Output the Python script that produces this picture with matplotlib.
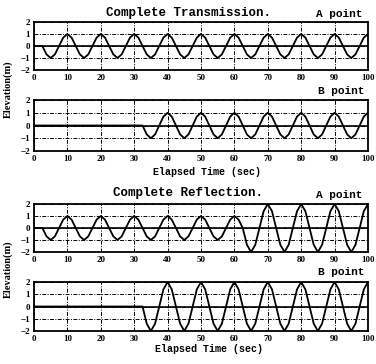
import numpy as np
import matplotlib
matplotlib.use("Agg")
import matplotlib.pyplot as plt

# sample times (sec), every 1.25 s from 0 to 100
t = np.arange(0, 100.01, 1.25)

# elevations (m), one row per 10 s
trans_a = [0, 0, 0, -0.7, -1, -0.7, 0, 0.7,
           1, 0.7, 0, -0.7, -1, -0.7, 0, 0.7,
           1, 0.7, 0, -0.7, -1, -0.7, 0, 0.7,
           1, 0.7, 0, -0.7, -1, -0.7, 0, 0.7,
           1, 0.7, 0, -0.7, -1, -0.7, 0, 0.7,
           1, 0.7, 0, -0.7, -1, -0.7, 0, 0.7,
           1, 0.7, 0, -0.7, -1, -0.7, 0, 0.7,
           1, 0.7, 0, -0.7, -1, -0.7, 0, 0.7,
           1, 0.7, 0, -0.7, -1, -0.7, 0, 0.7,
           1, 0.7, 0, -0.7, -1, -0.7, 0, 0.7,
           1]
trans_b = [0, 0, 0, 0, 0, 0, 0, 0,
           0, 0, 0, 0, 0, 0, 0, 0,
           0, 0, 0, 0, 0, 0, 0, 0,
           0, 0, 0, -0.7, -1, -0.7, 0, 0.7,
           1, 0.7, 0, -0.7, -1, -0.7, 0, 0.7,
           1, 0.7, 0, -0.7, -1, -0.7, 0, 0.7,
           1, 0.7, 0, -0.7, -1, -0.7, 0, 0.7,
           1, 0.7, 0, -0.7, -1, -0.7, 0, 0.7,
           1, 0.7, 0, -0.7, -1, -0.7, 0, 0.7,
           1, 0.7, 0, -0.7, -1, -0.7, 0, 0.7,
           1]
refl_a = [0, 0, 0, -0.7, -1, -0.7, 0, 0.7,
          1, 0.7, 0, -0.7, -1, -0.7, 0, 0.7,
          1, 0.7, 0, -0.7, -1, -0.7, 0, 0.7,
          1, 0.7, 0, -0.7, -1, -0.7, 0, 0.7,
          1, 0.7, 0, -0.7, -1, -0.7, 0, 0.7,
          1, 0.7, 0, -0.7, -1, -0.7, 0, 0.7,
          1, 0.7, 0, -1.4, -2, -1.4, 0, 1.4,
          2, 1.4, 0, -1.4, -2, -1.4, 0, 1.4,
          2, 1.4, 0, -1.4, -2, -1.4, 0, 1.4,
          2, 1.4, 0, -1.4, -2, -1.4, 0, 1.4,
          2]
refl_b = [0, 0, 0, 0, 0, 0, 0, 0,
          0, 0, 0, 0, 0, 0, 0, 0,
          0, 0, 0, 0, 0, 0, 0, 0,
          0, 0, 0, -1.4, -2, -1.4, 0, 1.4,
          2, 1.4, 0, -1.4, -2, -1.4, 0, 1.4,
          2, 1.4, 0, -1.4, -2, -1.4, 0, 1.4,
          2, 1.4, 0, -1.4, -2, -1.4, 0, 1.4,
          2, 1.4, 0, -1.4, -2, -1.4, 0, 1.4,
          2, 1.4, 0, -1.4, -2, -1.4, 0, 1.4,
          2, 1.4, 0, -1.4, -2, -1.4, 0, 1.4,
          2]

xticks = [0, 10, 20, 30, 40, 50, 60, 70, 80, 90, 100]
yticks = [-2, -1, 0, 1, 2]

W, H = 376, 364
fig = plt.figure(figsize=(W / 100, H / 100), dpi=100)

def px_axes(top, bottom, left=34, right=368):
    return fig.add_axes([left / W, 1 - bottom / H, (right - left) / W, (bottom - top) / H])

def ftext(x, y, s, **kw):
    fig.text(x / W, 1 - y / H, s, ha="center", va="center", **kw)

serif = dict(family="Liberation Serif", weight="bold")
mono = dict(family="Liberation Mono", weight="bold")

def style(ax, data):
    ax.plot(t, data, color="black", lw=1.3)
    ax.axhline(0, color="black", lw=1.2)
    ax.set_xlim(0, 100)
    ax.set_ylim(-2, 2)
    ax.set_xticks(xticks)
    ax.set_yticks(yticks)
    ax.grid(True, color="black", lw=0.7, linestyle=(0, (4, 1.5, 1, 1.5)))
    ax.tick_params(length=0, pad=3, labelsize=6.5)
    for lab in ax.get_xticklabels() + ax.get_yticklabels():
        lab.set_fontfamily("Liberation Serif")
        lab.set_fontweight("bold")
    for sp in ax.spines.values():
        sp.set_linewidth(1.3)

panels = [(22, 70, trans_a), (100, 151, trans_b), (204, 252, refl_a), (282, 331, refl_b)]
for top, bottom, data in panels:
    ax = px_axes(top, bottom)
    style(ax, data)

ftext(189, 13, "Complete Transmission.", fontsize=9, **mono)
ftext(339, 14, "A point", fontsize=8, **mono)
ftext(341, 91, "B point", fontsize=8, **mono)
ftext(207, 172, "Elapsed Time (sec)", fontsize=7.2, **mono)
ftext(8, 89, "Elevation(m)", fontsize=7.5, rotation=90, **serif)

ftext(188, 193, "Complete Reflection.", fontsize=9, **mono)
ftext(339, 195, "A point", fontsize=8, **mono)
ftext(341, 272, "B point", fontsize=8, **mono)
ftext(209, 349, "Elapsed Time (sec)", fontsize=7.2, **mono)
ftext(8, 269, "Elevation(m)", fontsize=7.5, rotation=90, **serif)

fig.savefig("out.png", dpi=100)
